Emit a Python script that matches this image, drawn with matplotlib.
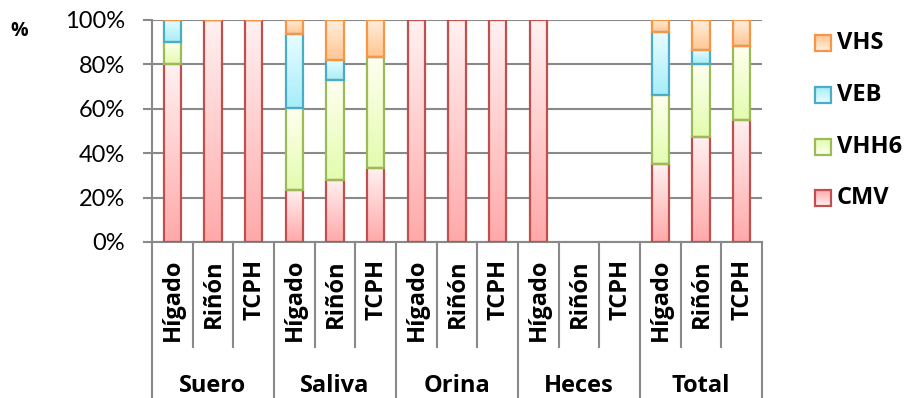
import numpy as np
import matplotlib
matplotlib.use('Agg')
import matplotlib.pyplot as plt
from matplotlib.colors import LinearSegmentedColormap
from matplotlib.transforms import blended_transform_factory

plt.rcParams['font.family'] = ['Lato', 'DejaVu Sans']
BOLD = ['Open Sans', 'DejaVu Sans']

nan = np.nan

groups = ['Suero', 'Saliva', 'Orina', 'Heces', 'Total']
organs = ['Hígado', 'Riñón', 'TCPH']

# % of positive samples per virus (stacked to 100%)
cmv  = [80, 100, 100,  23.5, 28, 33.3,  100, 100, 100,  100, nan, nan,  35, 47.5, 55]
vhh6 = [10, 0, 0,      37, 45, 50,      nan, nan, nan,  nan, nan, nan,  31, 32.5, 33.5]
veb  = [10, 0, 0,      33, 9, 0,        nan, nan, nan,  nan, nan, nan,  28.5, 6.5, 0]
vhs  = [0, 0, 0,       6.5, 18, 16.7,   nan, nan, nan,  nan, nan, nan,  5.5, 13.5, 11.5]

series = [('CMV', cmv), ('VHH6', vhh6), ('VEB', veb), ('VHS', vhs)]

# (edge, light top, dark bottom)
styles = {
    'CMV':  ('#C0504D', '#FFF1F1', '#FFA9A9'),
    'VHH6': ('#9BBB59', '#FFFFF0', '#E3FCAE'),
    'VEB':  ('#4BACC6', '#E9FDFF', '#A6EDFA'),
    'VHS':  ('#F79646', '#FFEFDF', '#FFC690'),
}

W, H = 909, 398
fig = plt.figure(figsize=(W / 100, H / 100), dpi=100)
L, R, T, B = 152, 762, 20, 242
ax = fig.add_axes([L / W, 1 - B / H, (R - L) / W, (B - T) / H])

grey = '#898989'
n = len(cmv)
x = np.arange(n)
bw = 0.43
grad = np.linspace(0, 1, 128).reshape(-1, 1)

bottom = np.zeros(n)
for name, vals in series:
    edge, top_c, bot_c = styles[name]
    cmap = LinearSegmentedColormap.from_list(name, [bot_c, top_c])
    vals = np.array(vals, dtype=float)
    for i in range(n):
        v = vals[i]
        if np.isnan(v):
            continue
        b = bottom[i]
        if v > 0:
            ax.imshow(grad, cmap=cmap, origin='lower', aspect='auto',
                      extent=(x[i] - bw / 2, x[i] + bw / 2, b, b + v), zorder=2)
        ax.bar(x[i], v, bw, bottom=b, facecolor='none', edgecolor=edge,
               linewidth=1.6, zorder=3)
        bottom[i] += v

ax.set_xlim(-0.5, n - 0.5)
ax.set_ylim(0, 100)
ax.set_yticks(np.arange(0, 101, 20))
ax.set_yticklabels(['%d%%' % v for v in range(0, 101, 20)], fontsize=17)
ax.tick_params(axis='y', length=6.5, width=1.5, color=grey, pad=13, labelcolor='black')
ax.set_xticks([])
ax.yaxis.grid(True, color=grey, linewidth=1.5, zorder=0)
ax.set_axisbelow(True)
for s in ['top', 'right']:
    ax.spines[s].set_visible(False)
for s in ['left', 'bottom']:
    ax.spines[s].set_color(grey)
    ax.spines[s].set_linewidth(1.5)

# two-level category axis
tr = blended_transform_factory(ax.transData, ax.transAxes)
ph = B - T
inner_y = -105 / ph
outer_y = -160 / ph
for k in range(n + 1):
    xe = k - 0.5
    yb = outer_y if k % 3 == 0 else inner_y
    ax.plot([xe, xe], [0, yb], color=grey, linewidth=1.5, transform=tr,
            clip_on=False, zorder=1)
for i in range(n):
    ax.text(x[i] + 0.02, -17 / ph, organs[i % 3], rotation=90, ha='center', va='top',
            fontsize=17, fontweight='bold', family=BOLD, transform=tr)
for g, name in enumerate(groups):
    ax.text(3 * g + 1, -144 / ph, name, ha='center', va='center',
            fontsize=17, fontweight='bold', family=BOLD, transform=tr)

fig.text(19 / W, 1 - 31 / H, '%', ha='center', va='center', fontsize=14,
         fontweight='bold', family=BOLD)

# legend drawn on an overlay in pixel coordinates
lg = fig.add_axes([0, 0, 1, 1])
lg.axis('off')
leg_names = ['VHS', 'VEB', 'VHH6', 'CMV']
leg_y = [43, 95, 147, 198]
for name, yc in zip(leg_names, leg_y):
    edge, top_c, bot_c = styles[name]
    cmap = LinearSegmentedColormap.from_list(name + 'l', [bot_c, top_c])
    x0, x1 = 815, 831
    lg.imshow(grad, cmap=cmap, origin='upper', aspect='auto',
              extent=(x0, x1, yc + 8, yc - 8), zorder=2)
    lg.add_patch(plt.Rectangle((x0, yc - 8), x1 - x0, 16, facecolor='none',
                               edgecolor=edge, linewidth=1.6, zorder=3))
    lg.text(837, yc, name, ha='left', va='center', fontsize=17, fontweight='bold',
            family=BOLD)
lg.set_xlim(0, W)
lg.set_ylim(H, 0)

fig.savefig('out.png', dpi=100)
